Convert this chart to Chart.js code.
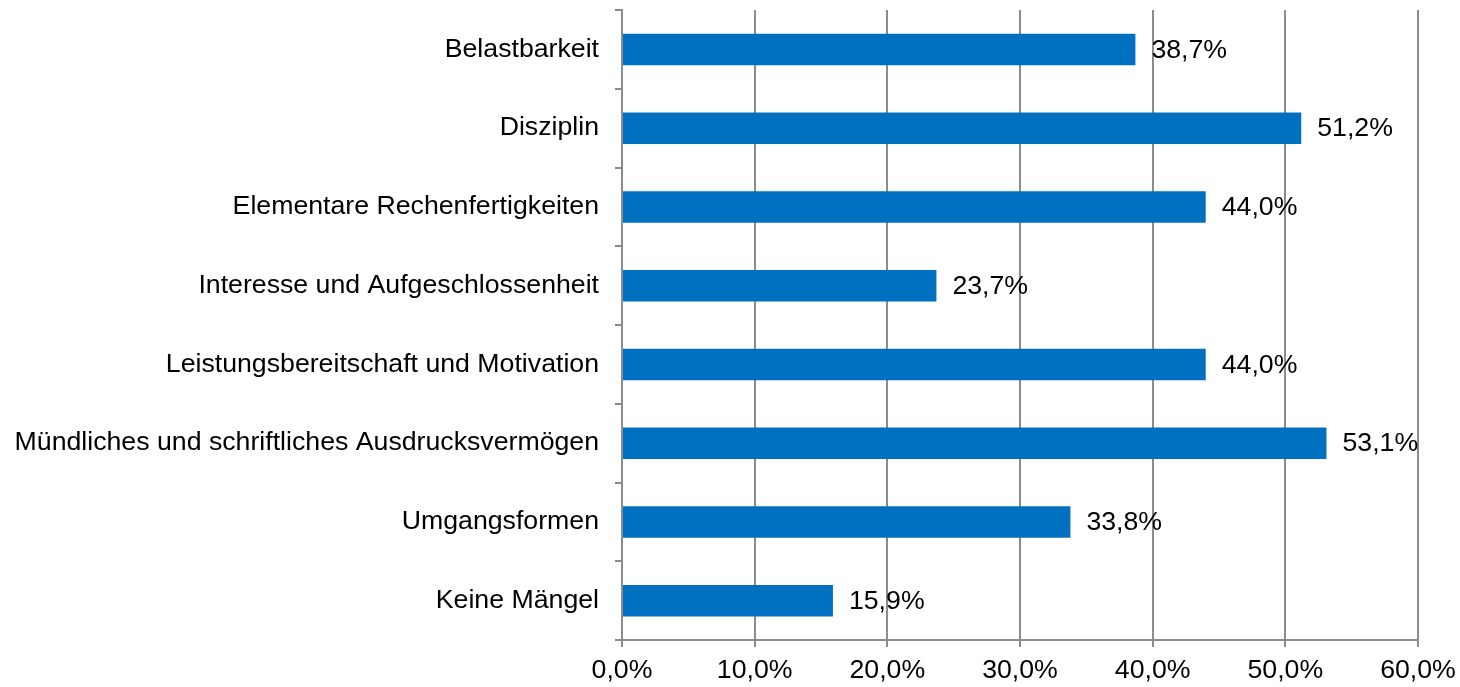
<!DOCTYPE html>
<html>
<head>
<meta charset="utf-8">
<script src="https://cdn.jsdelivr.net/npm/chart.js@4"></script>
<style>
  html, body { margin: 0; padding: 0; background: #fff; }
  #wrap { width: 1460px; height: 687px; }
</style>
</head>
<body>
<div id="wrap"><canvas id="myChart" width="1460" height="687"></canvas></div>
<script>
const categories = [
    "Belastbarkeit",
    "Disziplin",
    "Elementare Rechenfertigkeiten",
    "Interesse und Aufgeschlossenheit",
    "Leistungsbereitschaft und Motivation",
    "Mündliches und schriftliches Ausdrucksvermögen",
    "Umgangsformen",
    "Keine Mängel"
];
const shares = [38.7, 51.2, 44.0, 23.7, 44.0, 53.1, 33.8, 15.9];
const xTicks = [0, 10, 20, 30, 40, 50, 60];

const fmt = v => v.toFixed(1).replace('.', ',') + '%';
const gridGray = '#8c8c8c';
const fontSize = 26.7;

// value labels to the right of each bar
const barLabels = {
    id: 'barLabels',
    afterDatasetsDraw(chart) {
        const ctx = chart.ctx;
        const meta = chart.getDatasetMeta(0);
        ctx.save();
        ctx.font = fontSize + 'px "Liberation Sans", Arial, sans-serif';
        ctx.fillStyle = '#000';
        ctx.textAlign = 'left';
        ctx.textBaseline = 'middle';
        meta.data.forEach((bar, i) => {
            ctx.fillText(fmt(shares[i]), bar.x + 16, bar.y + 1);
        });
        ctx.restore();
    }
};

Chart.defaults.font.family = '"Liberation Sans", Arial, sans-serif';
Chart.defaults.font.size = fontSize;
Chart.defaults.color = '#000';

const ctx = document.getElementById('myChart').getContext('2d');
new Chart(ctx, {
    type: 'bar',
    data: {
        labels: categories,
        datasets: [{
            data: shares,
            backgroundColor: '#0070c0',
            borderWidth: 0,
            barPercentage: 0.4,
            categoryPercentage: 1.0,
        }]
    },
    options: {
        indexAxis: 'y',
        responsive: false,
        animation: false,
        layout: {
            padding: { top: 10, right: 42, left: 0, bottom: 0 }
        },
        scales: {
            x: {
                min: 0,
                max: 60,
                afterBuildTicks: scale => {
                    scale.ticks = xTicks.map(v => ({ value: v }));
                },
                afterFit: scale => {
                    scale.height = 47;
                    scale.paddingLeft = 0;
                    scale.paddingRight = 0;
                },
                ticks: {
                    callback: v => fmt(v),
                    padding: 8,
                    maxRotation: 0,
                },
                grid: {
                    color: gridGray,
                    lineWidth: 2,
                    tickLength: 7,
                },
                border: { color: gridGray, width: 2 },
            },
            y: {
                afterFit: scale => {
                    scale.width = 622;
                    scale.paddingTop = 0;
                    scale.paddingBottom = 0;
                },
                ticks: {
                    padding: 16,
                    autoSkip: false,
                },
                grid: {
                    offset: true,
                    drawOnChartArea: false,
                    color: gridGray,
                    lineWidth: 2,
                    tickLength: 7,
                },
                border: { color: gridGray, width: 2 },
            }
        },
        plugins: {
            legend: { display: false },
            tooltip: { enabled: false },
        }
    },
    plugins: [barLabels]
});
</script>
</body>
</html>
